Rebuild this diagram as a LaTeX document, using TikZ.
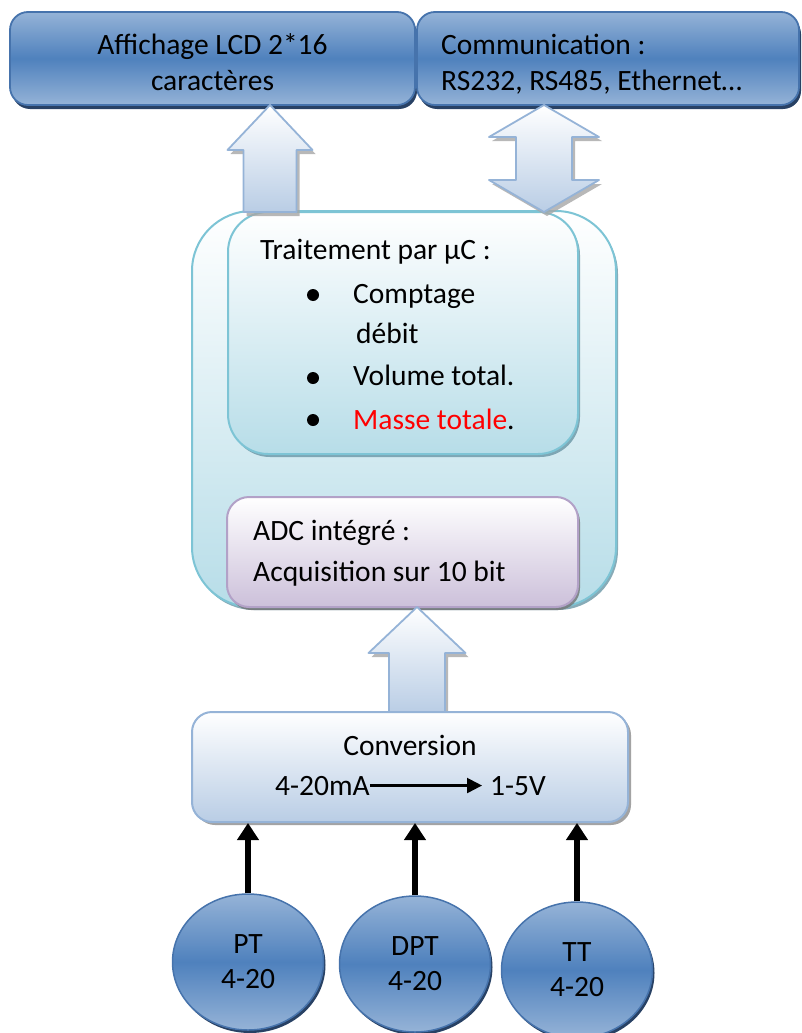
\documentclass[tikz,border=0pt]{standalone}
\usepackage{fontspec}
\setmainfont{Carlito}
\usetikzlibrary{shapes.geometric,shadows,arrows.meta}
\definecolor{lightblue}{RGB}{149,179,215}
\definecolor{midblue}{RGB}{79,129,189}
\definecolor{blueline}{RGB}{70,115,172}
\definecolor{blueshade}{RGB}{40,65,100}
\definecolor{paleblue}{RGB}{185,205,229}
\definecolor{tealfill}{RGB}{183,221,232}
\definecolor{tealline}{RGB}{125,196,213}
\definecolor{tealshade}{RGB}{105,150,165}
\definecolor{lilac}{RGB}{204,192,218}
\definecolor{lilacline}{RGB}{178,161,199}
\begin{document}
\begin{tikzpicture}[x=1pt,y=-1pt,line join=round,
    font=\fontsize{29.5}{35}\selectfont,
    txt/.style={inner sep=0pt},
    bluebox/.style={draw=blueline,line width=1.8pt,top color=lightblue,bottom color=lightblue,middle color=midblue,
      drop shadow={fill=blueshade,opacity=1,shadow xshift=2pt,shadow yshift=-4pt}},
    tealbox/.style={draw=tealline,line width=2pt,top color=white,bottom color=tealfill,
      drop shadow={fill=tealshade,opacity=0.8,shadow xshift=2pt,shadow yshift=-3pt}},
    adcbox/.style={draw=lilacline,line width=2pt,top color=white,bottom color=lilac,
      drop shadow={fill=black!55,opacity=0.8,shadow xshift=2pt,shadow yshift=-3pt}},
    convbox/.style={draw=lightblue,line width=2pt,top color=white,bottom color=paleblue,
      drop shadow={fill=black!45,opacity=0.8,shadow xshift=3pt,shadow yshift=-3pt}},
    sensor/.style={ellipse,draw=blueline,line width=1.5pt,top color=lightblue,bottom color=lightblue,middle color=midblue,
      minimum width=151,minimum height=136,inner sep=0pt,align=center,
      drop shadow={fill=blueshade,opacity=1,shadow xshift=2pt,shadow yshift=-3pt}},
    blockarrow/.style={draw=lightblue,line width=1.8pt,top color=white,bottom color=paleblue,
      drop shadow={fill=black!35,opacity=0.8,shadow xshift=3pt,shadow yshift=-4pt}},
    dot/.style={circle,fill=black,inner sep=0pt,minimum size=12},
    sigarrow/.style={line width=6.5pt,-{Triangle[length=17pt,width=21pt]}}]
\useasboundingbox (0,0) rectangle (801,1033);

% afficheur et communication
\node[bluebox,rounded corners=18pt,minimum width=405,minimum height=93] (lcd) at (212.5,58.5) {};
\node[bluebox,rounded corners=18pt,minimum width=382,minimum height=93] (comm) at (608,58.5) {};
\node[txt,anchor=base] (lcd1) at (212.5,55) {Affichage LCD 2*16};
\node[txt,anchor=base] (lcd2) at (212.5,90) {caractères};
\node[txt,anchor=base west] (comm1) at (441,55) {Communication :};
\node[txt,anchor=base west] (comm2) at (441,90) {RS232, RS485, Ethernet…};

% microcontroleur
\node[tealbox,rounded corners=60pt,minimum width=424,minimum height=396] (mcu) at (404,409) {};
\node[tealbox,rounded corners=40pt,minimum width=350,minimum height=242] (proc) at (403,333) {};
\node[adcbox,rounded corners=22pt,minimum width=351,minimum height=110] (adc) at (402.5,552) {};
\node[txt,anchor=base west] (proc0) at (260,259) {Traitement par µC :};
\node[txt,anchor=base west] (proc1) at (353,303) {Comptage};
\node[txt,anchor=base west] (proc2) at (356,343) {débit};
\node[txt,anchor=base west] (proc3) at (353,385) {Volume total.};
\node[txt,anchor=base west] (proc4) at (353,429) {\textcolor{red}{Masse totale}.};
\foreach \y/\n in {295/1,378/3,420/4} \node[dot] (dot\n) at (313,\y) {};
\node[txt,anchor=base west] (adc1) at (253,540) {ADC intégré :};
\node[txt,anchor=base west] (adc2) at (253,581) {Acquisition sur 10 bit};

% fleches larges
\draw[blockarrow] (270,105) -- ++(42.5,45) -- ++(-16,0) -- ++(0,62) -- ++(-53,0) -- ++(0,-62) -- ++(-16,0) -- cycle;
\draw[blockarrow] (544,105) -- (599,137) -- (572,137) -- (572,180) -- (599,180) -- (544,212)
  -- (489,180) -- (516,180) -- (516,137) -- (489,137) -- cycle;
\draw[blockarrow] (417,607) -- (465.5,653) -- (445,653) -- (445,713) -- (389,713) -- (389,653) -- (368.5,653) -- cycle;

% conversion
\node[convbox,rounded corners=20pt,minimum width=436,minimum height=110] (conv) at (410,767) {};
\node[txt,anchor=base] (conv1) at (410,755) {Conversion};
\node[txt,anchor=base west] (ma) at (275,795) {4-20mA};
\node[txt,anchor=base west] (v) at (490,795) {1-5V};
\draw[line width=2.2pt,-{Triangle[length=15pt,width=15pt]},shorten >=8pt] (ma.east) -- (ma.east -| v.west);

% capteurs
\node[sensor] (pt) at (248,962) {PT\\4-20};
\node[sensor] (dpt) at (415,964) {DPT\\4-20};
\node[sensor] (tt) at (577,970) {TT\\4-20};
\foreach \s in {pt,dpt,tt} \draw[sigarrow] (\s.north) -- (\s.north |- conv.south);
\end{tikzpicture}
\end{document}
